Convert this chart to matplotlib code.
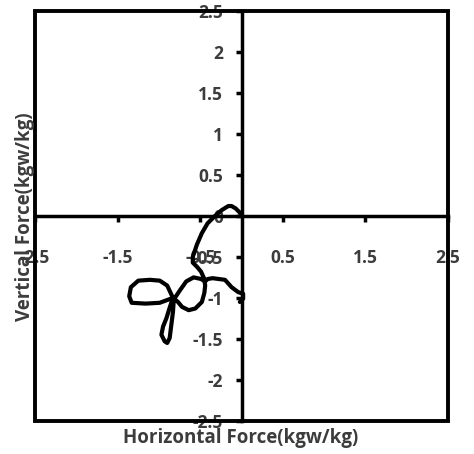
import numpy as np
import matplotlib.pyplot as plt
from matplotlib.patches import Rectangle

# force vector path (kgw/kg)
horiz = [0.00, -0.02, -0.07, -0.12, -0.16, -0.24, -0.32, -0.41, -0.48, -0.54,
         -0.59, -0.59, -0.54, -0.49, -0.45, -0.44, -0.45, -0.48, -0.56, -0.64,
         -0.72, -0.77, -0.83, -0.90, -0.99, -1.11, -1.25, -1.34, -1.36, -1.33,
         -1.16, -0.99, -0.83, -0.87, -0.91, -0.95, -0.97, -0.93, -0.90, -0.87,
         -0.85, -0.83, -0.82, -0.74, -0.67, -0.58, -0.49, -0.44, -0.41, -0.35,
         -0.20, -0.12, -0.04, 0.02, 0.02, -0.02]
vert = [0.00, 0.04, 0.09, 0.12, 0.12, 0.07, 0.00, -0.09, -0.21, -0.35,
        -0.50, -0.57, -0.62, -0.68, -0.77, -0.85, -0.94, -1.05, -1.13, -1.15,
        -1.11, -1.05, -1.00, -0.85, -0.79, -0.78, -0.79, -0.87, -0.98, -1.06,
        -1.07, -1.06, -1.00, -1.12, -1.25, -1.35, -1.45, -1.53, -1.55, -1.49,
        -1.33, -1.17, -1.02, -0.90, -0.80, -0.75, -0.77, -0.80, -0.77, -0.76,
        -0.78, -0.87, -0.93, -0.95, -1.01, -1.05]

xticks = [-2.5, -1.5, -0.5, 0.5, 1.5, 2.5]
yticks = [-2.5, -2, -1.5, -1, -0.5, 0, 0.5, 1, 1.5, 2, 2.5]

plt.rcParams['font.family'] = ['Open Sans', 'DejaVu Sans']
txt = '#3c3c3c'

fig = plt.figure(figsize=(4.74, 4.54), dpi=100)
ax = fig.add_axes([0.074, 0.073, 0.871, 0.903])

ax.plot(horiz, vert, color='black', lw=3.0, solid_joinstyle='round',
        solid_capstyle='round', zorder=3)

ax.set_xlim(-2.5, 2.5)
ax.set_ylim(-2.5, 2.5)

for s in ['top', 'right']:
    ax.spines[s].set_visible(False)
ax.spines['left'].set_position(('data', 0))
ax.spines['bottom'].set_position(('data', 0))
ax.spines['left'].set_linewidth(2.5)
ax.spines['bottom'].set_linewidth(2.5)
ax.add_patch(Rectangle((0, 0), 1, 1, transform=ax.transAxes, fill=False,
                       lw=2.8, ec='black', clip_on=False, zorder=4))

ax.set_xticks(xticks)
ax.set_xticklabels(['-2.5', '-1.5', '-0.5', '0.5', '1.5', '2.5'])
ax.set_yticks(yticks)
ax.set_yticklabels(['-2.5', '-2', '-1.5', '-1', '-0.5', '0', '0.5', '1', '1.5', '2', '2.5'])
ax.tick_params(axis='x', direction='out', length=4.5, width=2.5, pad=19,
               labelsize=12.5, labelcolor=txt)
ax.tick_params(axis='y', direction='out', length=4.5, width=2.5, pad=9,
               labelsize=12.5, labelcolor=txt)
for lab in ax.get_xticklabels() + ax.get_yticklabels():
    lab.set_fontweight('bold')

fig.text(0.508, 0.035, 'Horizontal Force(kgw/kg)', ha='center', va='center',
         fontsize=13.5, fontweight='bold', color=txt)
fig.text(0.053, 0.522, 'Vertical Force(kgw/kg)', ha='center', va='center',
         rotation=90, fontsize=13.5, fontweight='bold', color=txt)

fig.savefig('out.png', dpi=100)
